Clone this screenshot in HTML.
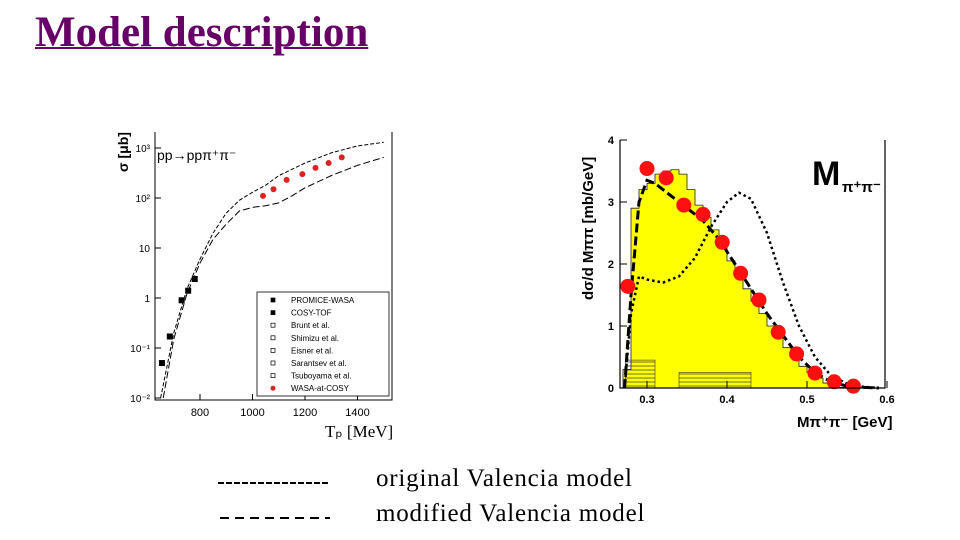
<!DOCTYPE html>
<html><head><meta charset="utf-8">
<style>
body{margin:0;width:960px;height:540px;background:#fff;overflow:hidden;position:relative;font-family:"Liberation Sans",sans-serif}
#title{position:absolute;left:35px;top:8px;font:bold 43px "Liberation Serif",serif;color:#660066;text-decoration:underline;text-decoration-thickness:2px;white-space:nowrap}
.leg{position:absolute;left:376px;font:25px "Liberation Serif",serif;color:#000;white-space:nowrap;letter-spacing:0.8px}
svg{position:absolute;left:0;top:0}
</style></head><body>
<div id="title">Model description</div>
<svg width="960" height="540" id="svg">
 <line x1="218" y1="483" x2="330" y2="483" stroke="#000" stroke-width="2" stroke-dasharray="6,2"/>
 <line x1="220" y1="518" x2="330" y2="518" stroke="#000" stroke-width="2" stroke-dasharray="9,6"/>
</svg>
<div class="leg" style="top:465px">original Valencia model</div>
<div class="leg" style="top:500px">modified Valencia model</div>
<script>
// ---- Left chart data ----
const wasaE=[1040,1080,1130,1190,1240,1290,1340];
const wasaS=[110,150,230,300,400,500,650];
const promE=[655,685,730,755,780];
const promS=[0.05,0.17,0.9,1.4,2.4];
const upperE=[650,700,750,800,850,900,950,1000,1050,1100,1200,1300,1400,1500];
const upperS=[0.01,0.2,1.5,6,20,50,90,130,180,280,500,800,1100,1300];
const lowerE=[660,700,750,800,850,900,950,1000,1050,1100,1150,1200,1300,1400,1500];
const lowerS=[0.01,0.15,1.2,5,15,30,55,65,70,80,110,160,280,450,650];
const leftXTicks=[800,1000,1200,1400];
const leftYTicks=["10\u207B\u00B2","10\u207B\u00B9","1","10","10\u00B2","10\u00B3"];
const legendNames=["PROMICE-WASA","COSY-TOF","Brunt et al.","Shimizu et al.","Eisner et al.","Sarantsev et al.","Tsuboyama et al.","WASA-at-COSY"];
// ---- Right chart data ----
const mX=[0.276,0.30,0.324,0.346,0.37,0.394,0.417,0.44,0.464,0.487,0.51,0.534,0.558];
const mY=[1.64,3.54,3.39,2.95,2.80,2.35,1.85,1.42,0.90,0.55,0.24,0.10,0.03];
const histX=[0.27,0.28,0.29,0.30,0.31,0.32,0.33,0.34,0.35,0.36,0.37,0.38,0.39,0.40,0.41,0.42,0.43,0.44,0.45,0.46,0.47,0.48,0.49,0.50,0.51,0.52,0.53,0.54];
const histY=[0.3,2.9,3.2,3.3,3.45,3.5,3.52,3.45,3.2,2.95,2.75,2.55,2.3,2.05,1.85,1.6,1.4,1.2,1.0,0.82,0.65,0.5,0.35,0.25,0.16,0.08,0.03,0.01];
const modX=[0.272,0.28,0.29,0.30,0.31,0.33,0.35,0.37,0.39,0.41,0.43,0.45,0.47,0.49,0.51,0.53,0.55,0.57,0.59];
const modY=[0,1.5,3.0,3.35,3.3,3.1,2.9,2.7,2.4,2.0,1.6,1.2,0.85,0.5,0.25,0.1,0.03,0.01,0];
const orgX=[0.272,0.28,0.29,0.30,0.32,0.34,0.36,0.38,0.40,0.415,0.43,0.45,0.47,0.49,0.51,0.53,0.55,0.57,0.59];
const orgY=[0,1.2,1.8,1.75,1.7,1.8,2.1,2.6,3.0,3.15,3.05,2.5,1.7,1.0,0.5,0.2,0.07,0.02,0];
const rightXTicks=[0.3,0.4,0.5,0.6];
const rightYTicks=[0,1,2,3,4];

const NS="http://www.w3.org/2000/svg";
const svg=document.getElementById('svg');
function mk(tag,attrs,parent){const e=document.createElementNS(NS,tag);for(const k in attrs)e.setAttribute(k,attrs[k]);(parent||svg).appendChild(e);return e;}

// Left axes
const lx=e=>200+(e-800)/200*52.5;
const ly=s=>298-Math.log10(s)*50;
let g=mk('g',{});


let r=mk('path',{d:`M155,132 L155,400 L392,400 L392,132`,fill:'none',stroke:'#000','stroke-width':1},g);


leftXTicks.forEach(v=>{const t=mk('text',{x:lx(v),y:416,'font-size':11,'text-anchor':'middle'},g);t.textContent=v;


mk('line',{x1:lx(v),y1:400,x2:lx(v),y2:394,stroke:'#000'},g);});
leftYTicks.forEach((v,i)=>{const yy=ly(Math.pow(10,i-2));const t=mk('text',{x:150,y:yy+4,'font-size':10,'text-anchor':'end'},g);t.textContent=v;


mk('line',{x1:155,y1:yy,x2:161,y2:yy,stroke:'#000'},g);});
let t=mk('text',{x:325,y:437,'font-size':17,'font-family':'Liberation Serif'},g);t.textContent='T\u209A [MeV]';


t=mk('text',{x:0,y:0,'font-size':14,'font-weight':'bold',transform:'translate(128,172) rotate(-90)'},g);t.textContent='\u03C3 [\u03BCb]';


t=mk('text',{x:157,y:160,'font-size':14},g);t.textContent='pp\u2192pp\u03C0\u207A\u03C0\u207B';


function poly(xs,ys,fx,fy,attrs,parent,name){const p=mk('polyline',Object.assign({points:xs.map((x,i)=>fx(x)+','+fy(ys[i])).join(' '),fill:'none'},attrs),parent);

return p;}
poly(upperE,upperS,lx,ly,{stroke:'#000','stroke-width':1,'stroke-dasharray':'4,2'},g,'original-model-curve');
poly(lowerE,lowerS,lx,ly,{stroke:'#000','stroke-width':1,'stroke-dasharray':'7,3'},g,'modified-model-curve');
promE.forEach((e,i)=>{const q=mk('rect',{x:lx(e)-3,y:ly(promS[i])-3,width:6,height:6,fill:'#000'},g);

});
wasaE.forEach((e,i)=>{const c=mk('circle',{cx:lx(e),cy:ly(wasaS[i]),r:3,fill:'#d22'},g);

});
// legend
let lg=mk('rect',{x:257,y:292,width:132,height:104,fill:'#fff',stroke:'#000','stroke-width':0.8},g);


legendNames.forEach((n,i)=>{const y=300+i*12.6;
const tx=mk('text',{x:291,y:y+3,'font-size':8},g);tx.textContent=n;


if(i==7)mk('circle',{cx:273,cy:y,r:2.5,fill:'#d22'},g);else mk('rect',{x:271,y:y-2,width:4,height:4,fill:i<2?'#000':'none',stroke:'#000','stroke-width':0.7},g);});

// Right chart
const rx=v=>647+(v-0.3)*800;
const ry=v=>388-v*62;
let g2=mk('g',{});


let d=`M${rx(histX[0])},${ry(0)}`;
histX.forEach((x,i)=>{d+=` L${rx(x)},${ry(histY[i])} L${rx(x+0.01)},${ry(histY[i])}`;});
d+=` L${rx(histX[histX.length-1]+0.01)},${ry(0)} Z`;
let h=mk('path',{d:d,fill:'#ffff00',stroke:'#222','stroke-width':0.8},g2);


mk('rect',{x:rx(0.273),y:ry(0.45),width:rx(0.31)-rx(0.273),height:ry(0)-ry(0.45),fill:'url(#hatch)',stroke:'#333','stroke-width':0.6},g2);
mk('rect',{x:rx(0.34),y:ry(0.25),width:rx(0.43)-rx(0.34),height:ry(0)-ry(0.25),fill:'url(#hatch)',stroke:'#333','stroke-width':0.6},g2);
const defs=mk('defs',{});const pat=mk('pattern',{id:'hatch',width:4,height:4,patternUnits:'userSpaceOnUse'},defs);mk('line',{x1:0,y1:2,x2:4,y2:2,stroke:'#333','stroke-width':0.7},pat);
poly(orgX,orgY,rx,ry,{stroke:'#000','stroke-width':2.5,'stroke-dasharray':'2.5,3'},g2,'original-model-curve-right');
poly(modX,modY,rx,ry,{stroke:'#000','stroke-width':3,'stroke-dasharray':'9,4'},g2,'modified-model-curve-right');
mX.forEach((x,i)=>{const c=mk('circle',{cx:rx(x),cy:ry(mY[i]),r:7.5,fill:'#ff1010'},g2);

});
let ax=mk('path',{d:`M620,140 L620,388 L885,388 L885,140`,fill:'none',stroke:'#000','stroke-width':1.2},g2);


rightXTicks.forEach(v=>{const tt=mk('text',{x:rx(v),y:403,'font-size':11,'font-weight':'bold','text-anchor':'middle'},g2);tt.textContent=v.toFixed(1);


mk('line',{x1:rx(v),y1:388,x2:rx(v),y2:381,stroke:'#000'},g2);});
rightYTicks.forEach(v=>{const tt=mk('text',{x:614,y:ry(v)+4,'font-size':11,'font-weight':'bold','text-anchor':'end'},g2);tt.textContent=v;


mk('line',{x1:620,y1:ry(v),x2:627,y2:ry(v),stroke:'#000'},g2);});
t=mk('text',{x:0,y:0,'font-size':15,'font-weight':'bold',transform:'translate(593,300) rotate(-90)'},g2);t.textContent='d\u03C3/d M\u03C0\u03C0 [mb/GeV]';


t=mk('text',{x:797,y:427,'font-size':15,'font-weight':'bold'},g2);t.textContent='M\u03C0\u207A\u03C0\u207B  [GeV]';


t=mk('text',{x:812,y:185,'font-size':34,'font-weight':'bold'},g2);t.textContent='M';


t=mk('text',{x:842,y:192,'font-size':15,'font-weight':'bold'},g2);t.textContent='\u03C0\u207A\u03C0\u207B';


</script>
</body></html>
